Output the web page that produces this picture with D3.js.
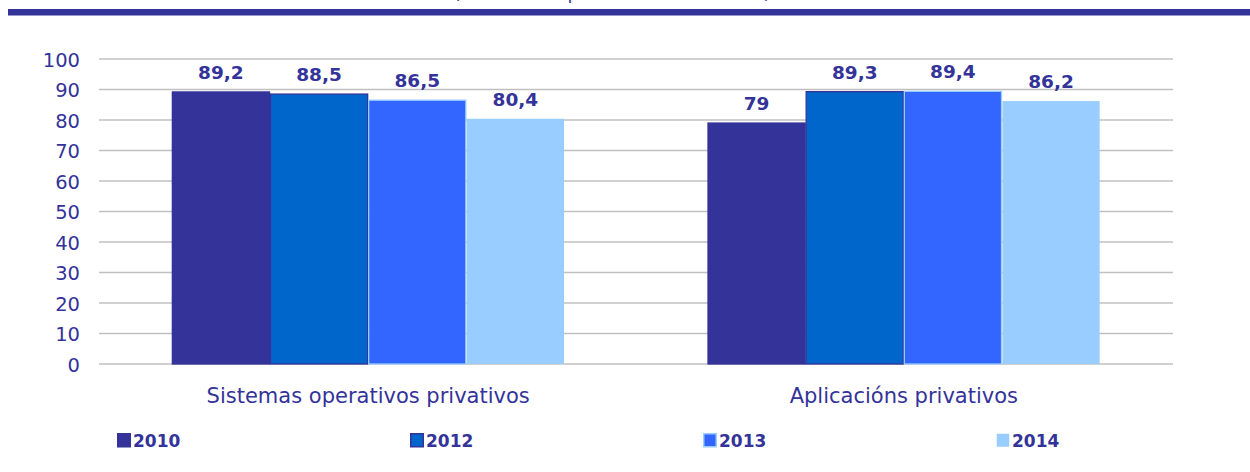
<!DOCTYPE html>
<html>
<head>
<meta charset="utf-8">
<script src="https://cdn.jsdelivr.net/npm/d3@7"></script>
<style>
  html, body { margin: 0; padding: 0; background: #ffffff; }
  svg { display: block; }
  text { font-family: "DejaVu Sans", Verdana, sans-serif; }
</style>
</head>
<body>
<svg id="chart" width="1250" height="472"></svg>
<script>
const categories = ["Sistemas operativos privativos", "Aplicacións privativos"];
const years = ["2010", "2012", "2013", "2014"];
const values2010 = [89.2, 79];
const values2012 = [88.5, 89.3];
const values2013 = [86.5, 89.4];
const values2014 = [80.4, 86.2];
const yTicks = [0, 10, 20, 30, 40, 50, 60, 70, 80, 90, 100];
const subtitle = "(% sobre empresas con ordenador)";

const seriesValues = [values2010, values2012, values2013, values2014];
const fills = ["#333399", "#0066CC", "#3366FF", "#99CCFF"];
const strokes = ["#333399", "#333399", "#99CCFF", "#99CCFF"];
const textColor = "#333399";

const svg = d3.select("#chart");
const W = 1250, H = 472;
const plotLeft = 99, plotRight = 1173, plotTop = 59, plotBottom = 364;

// header band and clipped subtitle (the reference shows only its lower edge)
svg.append("text")
  .attr("x", 612).attr("y", -1)
  .attr("text-anchor", "middle")
  .attr("font-size", 18)
  .attr("fill", textColor)
  .text(subtitle);
svg.append("rect")
  .attr("x", 8).attr("y", 9).attr("width", W - 8).attr("height", 6.5)
  .attr("fill", "#333399");

const x0 = d3.scaleBand().domain(categories).range([plotLeft, plotRight])
  .paddingInner(0.267).paddingOuter(0.136);
const x1 = d3.scaleBand().domain(years).range([0, x0.bandwidth()]).padding(0);
const y = d3.scaleLinear().domain([0, 100]).range([plotBottom, plotTop]);

// gridlines
svg.append("g").selectAll("line").data(yTicks).join("line")
  .attr("x1", plotLeft).attr("x2", plotRight)
  .attr("y1", d => y(d)).attr("y2", d => y(d))
  .attr("stroke", "#c0c0c0").attr("stroke-width", 1.6);

// y axis labels
const yAxis = d3.axisLeft(y).tickValues(yTicks).tickSize(0).tickPadding(0).tickFormat(d => d);
const gy = svg.append("g").attr("transform", `translate(80,0)`).call(yAxis);
gy.select(".domain").remove();
gy.selectAll("text")
  .attr("font-size", 19.5)
  .attr("font-family", "DejaVu Sans, Verdana, sans-serif")
  .attr("fill", textColor)
  .attr("dy", "0.36em");

// bars
const data = [];
categories.forEach((c, ci) => {
  years.forEach((yr, si) => {
    data.push({ c, yr, si, v: seriesValues[si][ci] });
  });
});

svg.append("g").selectAll("rect").data(data).join("rect")
  .attr("x", d => x0(d.c) + x1(d.yr) + 0.5)
  .attr("y", d => y(d.v))
  .attr("width", x1.bandwidth() - 1)
  .attr("height", d => y(0) - y(d.v))
  .attr("fill", d => fills[d.si])
  .attr("stroke", d => strokes[d.si])
  .attr("stroke-width", d => d.si === 3 ? 0 : 1.3);

// value labels
svg.append("g").selectAll("text").data(data).join("text")
  .attr("x", d => x0(d.c) + x1(d.yr) + x1.bandwidth() / 2)
  .attr("y", d => y(d.v) - 13)
  .attr("text-anchor", "middle")
  .attr("font-size", 18.5)
  .attr("font-weight", "bold")
  .attr("fill", textColor)
  .text(d => String(d.v).replace(".", ","));

// category labels
const xAxis = d3.axisBottom(x0).tickSize(0).tickPadding(0);
const gx = svg.append("g").attr("transform", `translate(0,${plotBottom})`).call(xAxis);
gx.select(".domain").remove();
gx.selectAll("text")
  .attr("font-size", 21)
  .attr("font-family", "DejaVu Sans, Verdana, sans-serif")
  .attr("fill", textColor)
  .attr("y", 39)
  .attr("dy", 0);

// legend
const legendX = d3.scalePoint().domain(years).range([117, 996]);
const lg = svg.append("g").selectAll("g").data(years).join("g")
  .attr("transform", d => `translate(${legendX(d)},433)`);
lg.append("rect")
  .attr("x", 0.75).attr("y", 0.75).attr("width", 12.5).attr("height", 13)
  .attr("fill", (d, i) => fills[i])
  .attr("stroke", (d, i) => strokes[i])
  .attr("stroke-width", (d, i) => i === 3 ? 0 : 1.5);
lg.append("text")
  .attr("x", 16).attr("y", 14)
  .attr("font-size", 17)
  .attr("font-weight", "bold")
  .attr("fill", textColor)
  .text(d => d);
</script>
</body>
</html>
